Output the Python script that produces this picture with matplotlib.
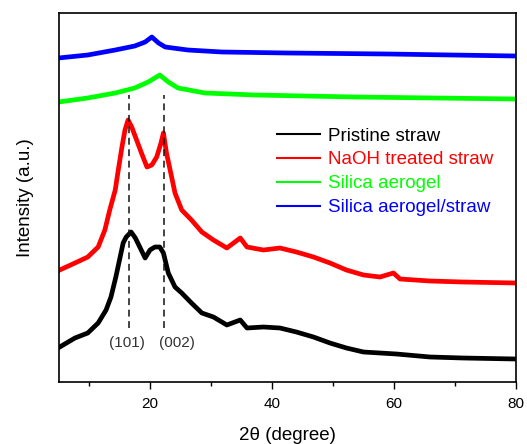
import matplotlib
matplotlib.use("Agg")
import matplotlib.pyplot as plt

plt.rcParams['font.family'] = ['Liberation Sans', 'DejaVu Sans']

# Data (y in arbitrary offset units)
x_black = [5.2, 7.7, 9.8, 11.5, 12.8, 13.6, 14.4, 15.0, 15.6, 16.1, 16.9, 17.6, 18.4, 19.2, 20.0, 20.8, 21.6, 22.2,
           23.0, 24.1, 25.2, 26.8, 28.5, 30.4, 32.6, 34.8, 35.9, 38.6, 41.3, 44.0, 46.8, 49.5, 52.2, 55.0, 57.7,
           60.4, 65.9, 71.3, 80.0]
y_black = [35, 44, 49, 59, 72, 85, 105, 122, 139, 145, 150, 144, 134, 124, 132, 135, 135, 129,
           109, 95, 89, 79, 69, 65, 57, 62, 54, 55, 54, 50, 45, 39, 34, 30, 29,
           28, 25, 24, 23]

x_red = [5.2, 7.7, 9.8, 11.5, 12.6, 13.4, 14.3, 14.8, 15.4, 15.9, 16.4, 17.0, 17.8, 18.6, 19.5, 20.3, 21.1, 21.8,
         22.2, 22.7, 23.3, 24.1, 25.2, 26.8, 28.5, 30.4, 32.6, 34.8, 35.9, 38.6, 41.3, 44.0, 46.8, 49.5, 52.2,
         55.0, 57.7, 59.9, 61.0, 65.9, 71.3, 80.0]
y_red = [112, 119, 125, 135, 152, 172, 192, 212, 235, 252, 262, 255, 242, 229, 215, 217, 225, 239,
         249, 229, 212, 189, 172, 162, 150, 142, 134, 144, 135, 132, 134, 130, 125, 119, 112,
         107, 105, 109, 103, 101, 100, 99]

x_green = [5, 9.8, 14.3, 17.5, 19.7, 21.6, 23.0, 24.6, 29.0, 37.2, 53.6, 80.0]
y_green = [280, 284, 289, 294, 300, 307, 300, 294, 289, 287, 285, 283]

x_blue = [5, 9.8, 14.3, 17.5, 19.2, 20.3, 21.4, 22.5, 26.2, 31.8, 42.6, 59.0, 80.0]
y_blue = [324, 327, 332, 336, 340, 345, 339, 335, 332, 330, 329, 328, 326]

peak_pos = [16.56, 22.35]
peak_labels = ["(101)", "(002)"]

labels = ["Pristine straw", "NaOH treated straw", "Silica aerogel", "Silica aerogel/straw"]
colors = ["#000000", "#ff0000", "#00ff00", "#0000ff"]

fig = plt.figure(figsize=(5.27, 4.44), dpi=100)
ax = fig.add_axes([58.5/527, 62/444, (516-58.5)/527, (382-13)/444])

series = [(x_black, y_black), (x_red, y_red), (x_green, y_green), (x_blue, y_blue)]
for (xs, ys), c, lab in zip(series, colors, labels):
    ax.plot(xs, ys, color=c, lw=3.4, label=lab, solid_joinstyle='round')

for p in peak_pos:
    ax.plot([p, p], [54, 287], color='#111111', lw=1.1, ls=(0, (4.5, 3)))

ax.text(16.2, 39, peak_labels[0], ha='center', va='center', fontsize=11, color='#333333')
ax.text(24.4, 39, peak_labels[1], ha='center', va='center', fontsize=11, color='#333333')

ax.set_xlim(5, 80)
ax.set_ylim(0, 369)
ax.set_xticks([20, 40, 60, 80])
ax.set_xticks([10, 30, 50, 70], minor=True)
ax.set_yticks([])
ax.tick_params(axis='x', which='major', direction='out', length=5, width=1, labelsize=11, pad=6)
ax.tick_params(axis='x', which='minor', direction='out', length=3, width=1)
for s in ax.spines.values():
    s.set_linewidth(1.2)

ax.set_xlabel("2θ (degree)", fontsize=13.5, labelpad=11)
ax.set_ylabel("Intensity (a.u.)", fontsize=13.5, labelpad=18)

leg = ax.legend(loc='upper left', bbox_to_anchor=(0.478, 0.690), frameon=False,
                fontsize=13.5, handlelength=2.3, handletextpad=0.4, labelspacing=0.36,
                borderaxespad=0, borderpad=0)
for line in leg.get_lines():
    line.set_linewidth(1.5)
for t, c in zip(leg.get_texts(), colors):
    t.set_color(c)

fig.savefig("out.png", dpi=100)
